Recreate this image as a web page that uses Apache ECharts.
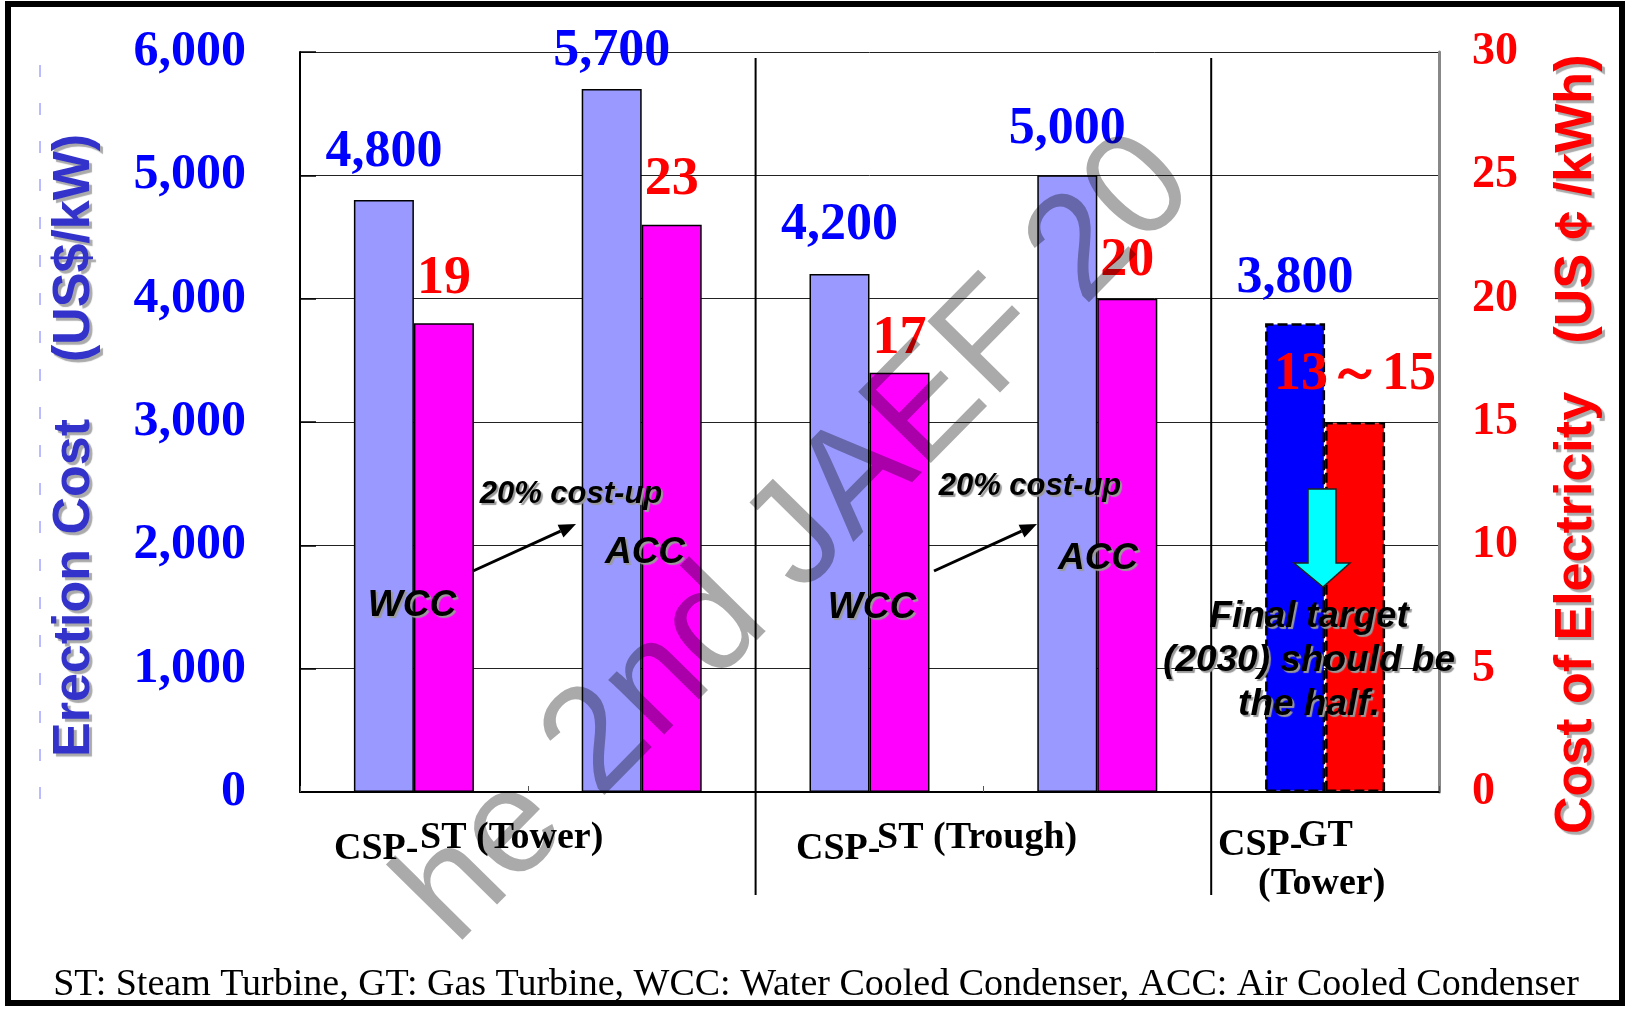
<!DOCTYPE html>
<html>
<head>
<meta charset="utf-8">
<title>CSP erection cost and cost of electricity</title>
<script src="https://cdn.jsdelivr.net/npm/echarts@6/dist/echarts.min.js"></script>
<style>
  html, body { margin: 0; padding: 0; background: #fff; }
  #chart { width: 1633px; height: 1009px; }
</style>
</head>
<body>
<div id="chart"></div>
<script>
// data
const categories = ['CSP-ST Tower WCC', 'CSP-ST Tower ACC', 'CSP-ST Trough WCC', 'CSP-ST Trough ACC', 'CSP-GT Tower'];
const erectionCost = [4800, 5700, 4200, 5000, 3800];        // US$/kW (left axis)
const electricityCost = [19, 23, 17, 20, 15];               // US cent/kWh (right axis)
const electricityLabels = ['19', '23', '17', '20', '13～15'];
const costAxis = { min: 0, max: 6000, step: 1000 };
const elecAxis = { min: 0, max: 30, step: 5 };
const footnote = 'ST: Steam Turbine, GT: Gas Turbine, WCC: Water Cooled Condenser, ACC: Air Cooled Condenser';

// label gaps above bars (styling only)
const costLabelGap = [21, 11, 22, 20, 19];
const elecLabelGap = [17, 18, 7, 11, 20];

const SERIF = '"Liberation Serif", "Times New Roman", serif';
const SANS = '"Liberation Sans", Arial, sans-serif';

const targetStyle = (color) => ({
  color: color,
  borderColor: '#000',
  borderWidth: 2.5,
  borderType: [10, 4]
});

const chart = echarts.init(document.getElementById('chart'));

const option = {
  backgroundColor: '#fff',
  animation: false,
  grid: { left: 300, right: 194, top: 52, bottom: 217, containLabel: false, outerBoundsMode: 'none' },
  xAxis: {
    type: 'category',
    data: categories,
    axisLine: { show: true, lineStyle: { color: '#000', width: 2 } },
    axisTick: { show: true, inside: true, length: 6, lineStyle: { color: '#555', width: 1 } },
    axisLabel: { show: false },
    splitLine: { show: false }
  },
  yAxis: [
    {
      type: 'value',
      position: 'left',
      min: costAxis.min,
      max: costAxis.max,
      interval: costAxis.step,
      axisLine: { show: true, lineStyle: { color: '#000', width: 2 } },
      axisTick: { show: true, inside: true, length: 16, lineStyle: { color: '#000', width: 1.5 } },
      axisLabel: {
        color: '#0000FF',
        fontFamily: SERIF,
        fontWeight: 'bold',
        fontSize: 50,
        margin: 54,
        formatter: (v) => v.toLocaleString('en-US')
      },
      splitLine: { show: true, lineStyle: { color: '#222', width: 1 } }
    },
    {
      type: 'value',
      position: 'right',
      min: elecAxis.min,
      max: elecAxis.max,
      interval: elecAxis.step,
      axisLine: { show: true, lineStyle: { color: '#888', width: 3 } },
      axisTick: { show: false },
      axisLabel: {
        color: '#FF0000',
        fontFamily: SERIF,
        fontWeight: 'bold',
        fontSize: 46,
        margin: 33
      },
      splitLine: { show: false }
    }
  ],
  series: [
    {
      name: 'Erection Cost',
      type: 'bar',
      yAxisIndex: 0,
      barWidth: 60,
      barGap: '0%',
      itemStyle: { color: '#9999FF', borderColor: '#000', borderWidth: 1.5 },
      label: {
        show: true,
        position: 'top',
        color: '#0000FF',
        fontFamily: SERIF,
        fontWeight: 'bold',
        fontSize: 52,
        formatter: (p) => p.value.toLocaleString('en-US')
      },
      data: erectionCost.map((v, i) => ({
        value: v,
        label: { distance: costLabelGap[i] },
        ...(i === 4 ? { itemStyle: targetStyle('#0000FF') } : {})
      }))
    },
    {
      name: 'Cost of Electricity',
      type: 'bar',
      yAxisIndex: 1,
      barWidth: 60,
      barGap: '0%',
      itemStyle: { color: '#FF00FF', borderColor: '#000', borderWidth: 1.5 },
      label: {
        show: true,
        position: 'top',
        color: '#FF0000',
        fontFamily: SERIF,
        fontWeight: 'bold',
        fontSize: 54,
        formatter: (p) => electricityLabels[p.dataIndex]
      },
      data: electricityCost.map((v, i) => ({
        value: v,
        label: { distance: elecLabelGap[i] },
        ...(i === 4 ? { itemStyle: targetStyle('#FF0000') } : {})
      }))
    }
  ]
};

chart.setOption(option);

// --- annotations ---
const shadowText = (id, x, y, text, size, extra) => ({
  type: 'text',
  id: id,
  x: x,
  y: y,
  z: 30,
  style: Object.assign({
    text: text,
    fill: '#000',
    fontFamily: SANS,
    fontWeight: 'bold',
    fontStyle: 'italic',
    fontSize: size,
    align: 'center',
    verticalAlign: 'middle',
    textShadowColor: '#999',
    textShadowOffsetX: 2,
    textShadowOffsetY: 2,
    textShadowBlur: 1
  }, extra || {})
});

const arrow = (id, x1, y1, x2, y2) => {
  const dx = x2 - x1, dy = y2 - y1;
  const len = Math.sqrt(dx * dx + dy * dy);
  const ux = dx / len, uy = dy / len;
  const bx = x2 - ux * 17, by = y2 - uy * 17;
  const px = -uy * 7, py = ux * 7;
  return [
    { type: 'line', id: id + '-l', z: 30, shape: { x1: x1, y1: y1, x2: bx, y2: by }, style: { stroke: '#000', lineWidth: 3 } },
    { type: 'polygon', id: id + '-h', z: 30, shape: { points: [[x2, y2], [bx + px, by + py], [bx - px, by - py]] }, style: { fill: '#000' } }
  ];
};

const rotatedTitle = (id, x, y, text, color) => ({
  type: 'text',
  id: id,
  x: x,
  y: y,
  rotation: Math.PI / 2,
  z: 30,
  style: {
    text: text,
    fill: color,
    fontFamily: SANS,
    fontWeight: 'bold',
    fontSize: 52,
    align: 'center',
    verticalAlign: 'middle',
    textShadowColor: '#aaa',
    textShadowOffsetX: 3,
    textShadowOffsetY: 3,
    textShadowBlur: 1
  }
});

const plainText = (id, x, y, text, size, weight) => ({
  type: 'text',
  id: id,
  x: x,
  y: y,
  z: 30,
  style: {
    text: text,
    fill: '#000',
    fontFamily: SERIF,
    fontWeight: weight || 'bold',
    fontSize: size,
    align: 'left',
    verticalAlign: 'middle'
  }
});

// dividers between technology groups, at category boundaries
const cx = (i) => chart.convertToPixel({ xAxisIndex: 0 }, categories[i]);
const boundary = (i) => (cx(i - 1) + cx(i)) / 2;
const dividers = [2, 4].map((b) => ({
  type: 'line',
  id: 'div' + b,
  z: 5,
  shape: { x1: boundary(b), y1: 58, x2: boundary(b), y2: 895 },
  style: { stroke: '#000', lineWidth: 2 }
}));

const graphics = [
  // outer frame
  { type: 'rect', id: 'frame', z: 40, shape: { x: 8, y: 4, width: 1614, height: 999 }, style: { fill: 'none', stroke: '#000', lineWidth: 6 } },
  { type: 'line', id: 'leftdash', z: 1, shape: { x1: 40, y1: 65, x2: 40, y2: 815 }, style: { stroke: '#7777ff', lineWidth: 1, lineDash: [12, 26] } },

  // axis titles
  rotatedTitle('lt1', 75, 588, 'Erection Cost', '#3333CC'),
  rotatedTitle('lt2', 75, 248, '(US$/kW)', '#3333CC'),
  rotatedTitle('rt1', 1577, 613, 'Cost of Electricity', '#FF0000'),
  rotatedTitle('rt2', 1577, 199, '(US ¢ /kWh)', '#FF0000'),

  // in-plot annotations
  shadowText('wcc1', 412, 606, 'WCC', 37),
  shadowText('acc1', 645, 553, 'ACC', 37),
  shadowText('up1', 571, 494, '20% cost-up', 31),
  ...arrow('ar1', 473, 571, 576, 524),
  shadowText('wcc2', 872, 608, 'WCC', 37),
  shadowText('acc2', 1098, 559, 'ACC', 37),
  shadowText('up2', 1030, 486, '20% cost-up', 31),
  ...arrow('ar2', 934, 571, 1037, 524),

  // target arrow and note
  {
    type: 'polygon', id: 'cyan', z: 30,
    shape: { points: [[1308, 489], [1336, 489], [1336, 563], [1350, 563], [1323, 587], [1294, 563], [1308, 563]] },
    style: { fill: '#00FFFF', stroke: '#222', lineWidth: 1.5 }
  },
  shadowText('final', 1309, 661, 'Final target\n(2030) should be\nthe half.', 37, { lineHeight: 44 }),

  // group labels under the axis
  plainText('g1a', 334, 849, 'CSP-', 38),
  plainText('g1b', 420, 838, 'ST (Tower)', 38),
  plainText('g2a', 796, 849, 'CSP-', 38),
  plainText('g2b', 877, 838, 'ST (Trough)', 38),
  plainText('g3a', 1218, 845, 'CSP-', 38),
  plainText('g3b', 1298, 836, 'GT', 38),
  plainText('g3c', 1258, 884, '(Tower)', 38),

  // footnote
  {
    type: 'text', id: 'foot', x: 816, y: 985, z: 30,
    style: { text: footnote, fill: '#000', fontFamily: SERIF, fontSize: 38, align: 'center', verticalAlign: 'middle' }
  },

  // watermark, on its own layer so it can be multiplied over the chart
  {
    type: 'text', id: 'wm', x: 798, y: 540, zlevel: 1, z: 50,
    rotation: 45.5 * Math.PI / 180,
    style: {
      text: 'he 2nd JAEF 20',
      fill: '#AAAAAA',
      fontFamily: SANS,
      fontSize: 148,
      align: 'center',
      verticalAlign: 'middle'
    }
  },
  ...dividers
];

chart.setOption({ graphic: { elements: graphics } });

const blendWatermark = () => {
  document.querySelectorAll('#chart canvas').forEach((c) => {
    if (c.getAttribute('data-zr-dom-id') === 'zr_1') {
      c.style.mixBlendMode = 'multiply';
    }
  });
};
blendWatermark();
chart.on('finished', blendWatermark);

window.addEventListener('resize', () => {
  chart.resize();
});
</script>
</body>
</html>
